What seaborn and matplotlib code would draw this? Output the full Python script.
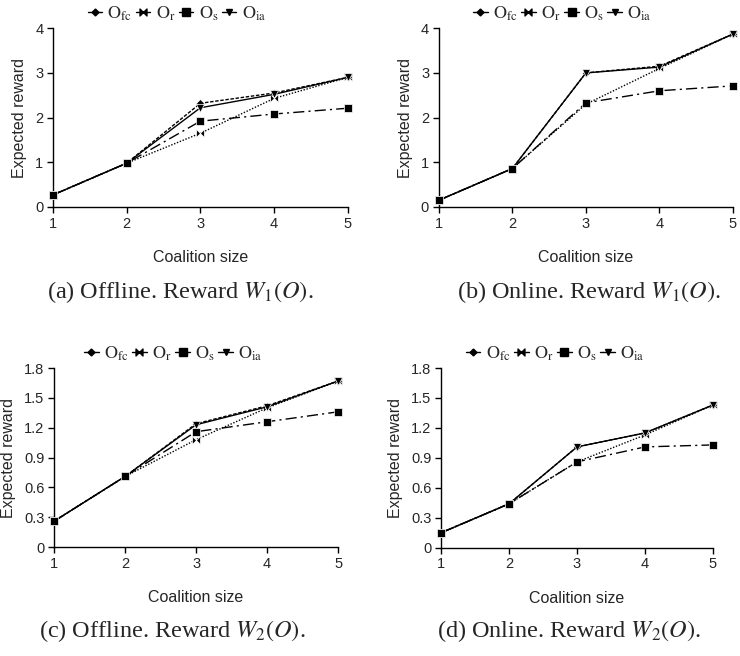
import numpy as np
import pandas as pd
import matplotlib
matplotlib.use("Agg")
import matplotlib.pyplot as plt
from matplotlib.path import Path
import seaborn as sns

sizes = [1, 2, 3, 4, 5]
series = ["Ofc", "Or", "Os", "Oia"]
labels = [r"$\mathrm{O}_{\mathrm{fc}}$", r"$\mathrm{O}_{\mathrm{r}}$",
          r"$\mathrm{O}_{\mathrm{s}}$", r"$\mathrm{O}_{\mathrm{ia}}$"]

# (a) offline, W1
a_ofc = [0.27, 0.98, 2.32, 2.55, 2.90]
a_or = [0.27, 0.98, 1.65, 2.43, 2.90]
a_os = [0.27, 0.98, 1.92, 2.08, 2.21]
a_oia = [0.27, 0.98, 2.22, 2.52, 2.90]
# (b) online, W1
b_ofc = [0.15, 0.86, 3.00, 3.15, 3.87]
b_or = [0.15, 0.86, 2.30, 3.10, 3.87]
b_os = [0.15, 0.86, 2.33, 2.60, 2.71]
b_oia = [0.15, 0.86, 3.00, 3.13, 3.87]
# (c) offline, W2
c_ofc = [0.26, 0.71, 1.24, 1.42, 1.67]
c_or = [0.26, 0.71, 1.08, 1.40, 1.67]
c_os = [0.26, 0.71, 1.16, 1.26, 1.36]
c_oia = [0.26, 0.71, 1.23, 1.41, 1.67]
# (d) online, W2
d_ofc = [0.15, 0.44, 1.01, 1.15, 1.43]
d_or = [0.15, 0.44, 0.86, 1.13, 1.43]
d_os = [0.15, 0.44, 0.86, 1.01, 1.03]
d_oia = [0.15, 0.44, 1.01, 1.15, 1.43]

captions = [r"(a) Offline. Reward $W_1(O)$.", r"(b) Online. Reward $W_1(O)$.",
            r"(c) Offline. Reward $W_2(O)$.", r"(d) Online. Reward $W_2(O)$."]

sns.set_theme(style="ticks")
plt.rcParams["font.family"] = ["Liberation Sans", "DejaVu Sans"]
plt.rcParams["mathtext.fontset"] = "stix"

bowtie = Path([(-1, -1), (0, 0), (-1, 1), (-1, -1), (1, -1), (0, 0), (1, 1), (1, -1)],
              [Path.MOVETO, Path.LINETO, Path.LINETO, Path.CLOSEPOLY,
               Path.MOVETO, Path.LINETO, Path.LINETO, Path.CLOSEPOLY])
markers = {"Ofc": "D", "Or": bowtie, "Os": "s", "Oia": "v"}
dashes = {"Ofc": (2.5, 1.2), "Or": (1, 1.2), "Os": (8, 3, 1.5, 3), "Oia": ""}
msizes = {"Ofc": 4, "Or": 5.5, "Os": 6, "Oia": 5.5}
zorders = {"Ofc": 3, "Or": 2, "Os": 5, "Oia": 4}

panels = [
    (a_ofc, a_or, a_os, a_oia, 4, [0, 1, 2, 3, 4], ["0", "1", "2", "3", "4"]),
    (b_ofc, b_or, b_os, b_oia, 4, [0, 1, 2, 3, 4], ["0", "1", "2", "3", "4"]),
    (c_ofc, c_or, c_os, c_oia, 1.8, [0, 0.3, 0.6, 0.9, 1.2, 1.5, 1.8],
     ["0", "0.3", "0.6", "0.9", "1.2", "1.5", "1.8"]),
    (d_ofc, d_or, d_os, d_oia, 1.8, [0, 0.3, 0.6, 0.9, 1.2, 1.5, 1.8],
     ["0", "0.3", "0.6", "0.9", "1.2", "1.5", "1.8"]),
]
boxes = [
    [0.0716, 0.6845, 0.3984, 0.2725],
    [0.593, 0.6845, 0.3975, 0.2725],
    [0.073, 0.166, 0.384, 0.273],
    [0.596, 0.165, 0.3675, 0.274],
]
cap_pos = [(180 / 740, 1 - 292 / 656), (589 / 740, 1 - 292 / 656),
           (172 / 740, 1 - 631 / 656), (569 / 740, 1 - 631 / 656)]

fig = plt.figure(figsize=(7.4, 6.56), dpi=100)

for i, (p_fc, p_r, p_s, p_ia, ymax, yt, ytl) in enumerate(panels):
    ax = fig.add_axes(boxes[i])
    df = pd.DataFrame({
        "size": sizes * 4,
        "reward": p_fc + p_r + p_s + p_ia,
        "series": [s for s in series for _ in sizes],
    })
    sns.lineplot(data=df, x="size", y="reward", style="series", style_order=series,
                 markers=markers, dashes=dashes, color="black", linewidth=1,
                 markersize=5, markeredgewidth=0.5, ax=ax, legend=False)
    for line, s in zip(ax.lines, series):
        line.set_markersize(msizes[s])
        line.set_clip_on(False)
        line.set_zorder(zorders[s])
    ax.set_xlim(1, 5)
    ax.set_ylim(0, ymax)
    ax.set_xticks(sizes)
    ax.set_yticks(yt)
    ax.set_yticklabels(ytl)
    ax.tick_params(labelsize=10.5, width=1, length=4, color="black", pad=3)
    ax.set_xlabel("Coalition size", fontsize=11.5, labelpad=14)
    ax.set_ylabel("Expected reward", fontsize=11.5, labelpad=6)
    for sp in ["left", "bottom"]:
        ax.spines[sp].set_color("black")
        ax.spines[sp].set_linewidth(1)
    sns.despine(ax=ax)

    handles = []
    for s in series:
        h, = ax.plot([], [], color="black", linewidth=1, marker=markers[s],
                     markersize=msizes[s] - 0.5)
        handles.append(h)
    ax.legend(handles, labels, loc="lower center", bbox_to_anchor=(0.42, 0.98),
              ncol=4, frameon=False, fontsize=13, handlelength=0.8,
              handletextpad=0.3, columnspacing=0.2, borderaxespad=0.1)

    fig.text(cap_pos[i][0], cap_pos[i][1], captions[i], ha="center", va="center",
             fontsize=17.5, family="Liberation Serif")

fig.savefig("out.png", dpi=100)
